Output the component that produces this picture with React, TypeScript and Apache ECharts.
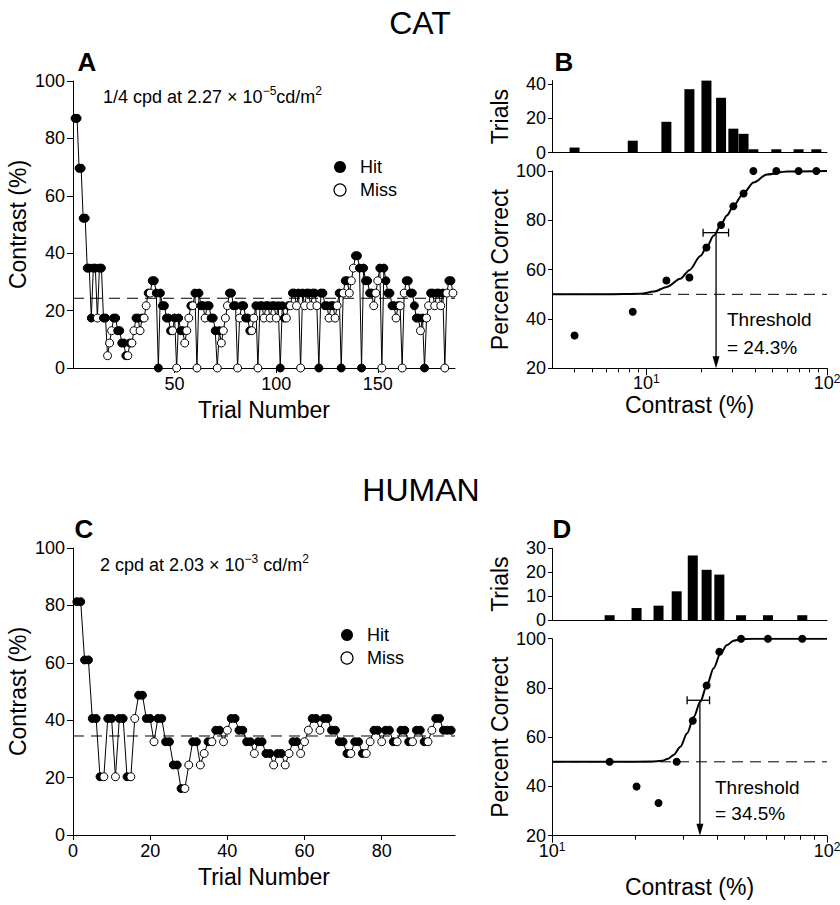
import React, { useEffect, useRef } from "react";
import * as echarts from "echarts";

const FONT = "'Liberation Sans', Arial, Helvetica, sans-serif";

// ---------- Panel A : cat staircase (trial 1..187) ----------
const catContrast = [
  87, 87, 69.6, 69.6, 52.2, 52.2, 34.8, 34.8, 17.4, 34.8,
  34.8, 17.4, 34.8, 34.8, 17.4, 17.4, 4.3, 8.7, 13, 17.4,
  17.4, 13, 13, 8.7, 8.7, 4.3, 4.3, 8.7, 8.7, 13,
  17.4, 17.4, 13, 17.4, 17.4, 21.7, 26.1, 26.1, 30.4, 30.4,
  26.1, 0, 26.1, 21.7, 21.7, 17.4, 17.4, 13, 13, 17.4,
  0, 17.4, 13, 13, 8.7, 13, 17.4, 21.7, 21.7, 26.1,
  0, 26.1, 21.7, 21.7, 17.4, 21.7, 21.7, 17.4, 17.4, 13,
  0, 13, 8.7, 13, 17.4, 21.7, 26.1, 26.1, 21.7, 21.7,
  0, 17.4, 21.7, 21.7, 17.4, 17.4, 13, 13, 17.4, 21.7,
  0, 21.7, 21.7, 17.4, 21.7, 21.7, 17.4, 21.7, 21.7, 17.4,
  21.7, 0, 21.7, 17.4, 17.4, 21.7, 21.7, 26.1, 26.1, 21.7,
  26.1, 0, 26.1, 21.7, 26.1, 26.1, 21.7, 26.1, 26.1, 21.7,
  0, 26.1, 26.1, 21.7, 21.7, 17.4, 21.7, 21.7, 17.4, 21.7,
  26.1, 0, 26.1, 30.4, 30.4, 26.1, 30.4, 34.8, 39.1, 39.1,
  34.8, 0, 34.8, 30.4, 30.4, 26.1, 26.1, 21.7, 26.1, 30.4,
  34.8, 0, 34.8, 30.4, 26.1, 26.1, 21.7, 21.7, 17.4, 21.7,
  21.7, 0, 26.1, 30.4, 30.4, 26.1, 26.1, 21.7, 17.4, 17.4,
  13, 17.4, 0, 17.4, 21.7, 26.1, 26.1, 21.7, 26.1, 26.1,
  21.7, 26.1, 0, 26.1, 30.4, 30.4, 26.1,
];
const catHit = [
  1, 1, 1, 1, 1, 1, 1, 1, 1, 1,
  1, 0, 1, 1, 1, 1, 0, 0, 0, 1,
  1, 1, 1, 1, 1, 1, 0, 1, 0, 0,
  1, 1, 0, 1, 0, 0, 1, 0, 1, 1,
  1, 1, 1, 1, 1, 1, 1, 1, 0, 1,
  0, 1, 1, 1, 0, 0, 0, 1, 0, 1,
  0, 1, 1, 1, 0, 1, 1, 1, 1, 1,
  0, 1, 0, 0, 0, 0, 1, 1, 1, 1,
  0, 0, 1, 1, 1, 1, 1, 0, 0, 1,
  0, 1, 1, 0, 1, 1, 0, 1, 1, 0,
  1, 1, 1, 1, 0, 1, 0, 1, 1, 0,
  1, 0, 1, 0, 1, 1, 0, 1, 1, 0,
  1, 1, 1, 1, 1, 0, 1, 1, 0, 0,
  1, 1, 0, 1, 1, 0, 0, 0, 1, 1,
  1, 1, 1, 1, 1, 1, 1, 0, 0, 0,
  1, 0, 1, 1, 1, 1, 1, 1, 0, 1,
  0, 0, 0, 1, 1, 1, 1, 1, 1, 1,
  0, 1, 1, 0, 0, 1, 1, 0, 1, 1,
  0, 1, 0, 0, 1, 1, 0,
];
const catThreshold = 24.3;
const catTrialMax = 188;

// ---------- Panel B : cat histogram + psychometric function ----------
const catLevels = [4.0, 8.4, 12.9, 17.3, 21.5, 25.9, 30.3, 34.5, 39.1, 52.4, 69.6, 87.3];
const catLevelTrials = [3, 7, 18, 37, 42, 32, 14, 11, 2, 2, 2, 2];
const catLevelPercent = [33.3, 42.9, 55.6, 56.8, 69.0, 78.1, 85.7, 90.9, 100, 100, 100, 100];
const catFitContrast = [3, 6, 9.3, 11, 13, 15.4, 17.3, 19.9, 21.5, 23.6, 25.9, 27.9, 30.3, 34.5, 39.2, 46.5, 60, 100];
const catFitPercent = [50, 50, 50.2, 51.1, 53, 56.3, 59.8, 65.5, 69, 73.8, 78.3, 82, 85.8, 91, 95.3, 98.6, 99.8, 100];
const catThresholdCI = [20.6, 28.5];

// ---------- Panel C : human staircase (trial 1..98) ----------
const humanContrast = [
  81.3, 81.3, 61, 61, 40.6, 40.6, 20.3, 20.3, 40.6, 40.6,
  20.3, 40.6, 40.6, 20.3, 20.3, 40.6, 48.7, 48.7, 40.6, 40.6,
  32.5, 40.6, 40.6, 32.5, 32.5, 24.4, 24.4, 16.2, 16.2, 24.4,
  32.5, 32.5, 24.4, 28.4, 32.5, 32.5, 36.5, 36.5, 32.5, 36.5,
  40.6, 40.6, 36.5, 36.5, 32.5, 32.5, 28.4, 32.5, 32.5, 28.4,
  28.4, 24.4, 28.4, 28.4, 24.4, 28.4, 32.5, 32.5, 28.4, 32.5,
  36.5, 40.6, 40.6, 36.5, 40.6, 40.6, 36.5, 36.5, 32.5, 32.5,
  28.4, 28.4, 32.5, 32.5, 28.4, 28.4, 32.5, 36.5, 36.5, 32.5,
  36.5, 36.5, 32.5, 32.5, 36.5, 36.5, 32.5, 32.5, 36.5, 36.5,
  32.5, 32.5, 36.5, 40.6, 40.6, 36.5, 36.5, 36.5,
];
const humanHit = [
  1, 1, 1, 1, 1, 1, 1, 0, 1, 1,
  0, 1, 1, 1, 0, 0, 1, 1, 1, 1,
  0, 1, 1, 1, 1, 1, 1, 1, 0, 0,
  1, 1, 0, 0, 1, 0, 1, 1, 0, 0,
  1, 1, 1, 1, 1, 1, 0, 1, 1, 1,
  1, 0, 1, 1, 0, 0, 1, 1, 0, 0,
  0, 1, 1, 0, 1, 1, 1, 1, 1, 1,
  1, 0, 1, 1, 1, 0, 0, 1, 1, 0,
  1, 1, 1, 0, 1, 1, 1, 0, 1, 1,
  1, 0, 0, 1, 1, 1, 1, 1,
];
const humanThreshold = 34.5;
const humanTrialMax = 99;

// ---------- Panel D : human histogram + psychometric function ----------
const humanLevels = [16.2, 20.3, 24.4, 28.4, 32.5, 36.5, 40.6, 48.7, 61, 81.3];
const humanLevelTrials = [2, 5, 6, 12, 27, 21, 19, 2, 2, 2];
const humanLevelPercent = [50, 40, 33.3, 50, 66.7, 81, 94.7, 100, 100, 100];
const humanFitContrast = [10, 18, 23, 25.1, 26.4, 27.7, 29.3, 31, 32.8, 34.6, 36.6, 38.7, 41, 43.3, 45.7, 49.7, 60, 100];
const humanFitPercent = [50, 50, 50.1, 50.4, 51.2, 52.8, 56.1, 61.6, 68.3, 74.4, 81.2, 88, 94.1, 97.4, 99.2, 99.9, 100, 100];
const humanThresholdCI = [31.0, 37.4];

// ---------- ticks ----------
const catTrialTicks = [50, 100, 150];
const humanTrialTicks = [0, 20, 40, 60, 80];
const catTrialsTicks = [0, 20, 40];
const humanTrialsTicks = [0, 10, 20, 30];
const catMinorTicks = [4, 5, 6, 7, 8, 9, 20, 30, 40, 50, 60, 70, 80, 90];
const humanMinorTicks = [20, 30, 40, 50, 60, 70, 80, 90];
const decadeTicks = [10, 100];
const criterion = 75;
const chance = 50;

const BLACK = "#000";

function buildOption() {
  const axisLine = { show: true, onZero: false, lineStyle: { color: BLACK, width: 1 } };
  const lbl = (extra: any = {}) => ({ color: BLACK, fontSize: 18, fontFamily: FONT, ...extra });
  const nameStyle = { color: BLACK, fontSize: 23, fontFamily: FONT };
  const tick = (len: number, extra: any = {}) => ({ show: true, length: len, lineStyle: { color: BLACK, width: 1 }, ...extra });
  const none = { show: false };

  const decadeLabel = {
    ...lbl({ margin: 5 }),
    customValues: decadeTicks,
    formatter: (v: number) => `{b|10}{s|${Math.round(Math.log10(v))}}`,
    rich: {
      b: { fontSize: 18, fontFamily: FONT, color: BLACK, lineHeight: 20 },
      s: { fontSize: 12, fontFamily: FONT, color: BLACK, verticalAlign: "top", lineHeight: 12 },
    },
  };

  const filled = { color: BLACK, borderColor: BLACK, borderWidth: 1, opacity: 1 };
  const open = { color: "#fff", borderColor: BLACK, borderWidth: 1, opacity: 1 };

  const staircase = (contrast: number[], hit: number[], idx: number) => ({
    type: "line",
    xAxisIndex: idx,
    yAxisIndex: idx === 0 ? 0 : 3,
    data: contrast.map((v, i) => ({ value: [i + 1, v], itemStyle: hit[i] ? filled : open })),
    symbol: "circle",
    symbolSize: 8,
    showAllSymbol: true,
    lineStyle: { color: BLACK, width: 1 },
    z: 3,
    silent: true,
  });

  const hline = (xa: number, ya: number, x0: number, x1: number, y: number) => ({
    type: "line",
    xAxisIndex: xa,
    yAxisIndex: ya,
    data: [[x0, y], [x1, y]],
    symbol: "none",
    lineStyle: { color: BLACK, width: 1, type: [11, 7] },
    z: 1,
    silent: true,
  });

  const histRender = (params: any, api: any) => {
    const c = api.value(0);
    const n = api.value(1);
    const b = api.coord([c, 0]);
    const t = api.coord([c, n]);
    return {
      type: "rect",
      shape: { x: b[0] - 5, y: t[1], width: 10, height: b[1] - t[1] },
      style: { fill: BLACK },
    };
  };
  const errRender = (params: any, api: any) => {
    const p1 = api.coord([api.value(0), api.value(2)]);
    const p2 = api.coord([api.value(1), api.value(2)]);
    const st = { stroke: BLACK, lineWidth: 1.3 };
    return {
      type: "group",
      children: [
        { type: "line", shape: { x1: p1[0], y1: p1[1], x2: p2[0], y2: p2[1] }, style: st },
        { type: "line", shape: { x1: p1[0], y1: p1[1] - 4, x2: p1[0], y2: p1[1] + 4 }, style: st },
        { type: "line", shape: { x1: p2[0], y1: p2[1] - 4, x2: p2[0], y2: p2[1] + 4 }, style: st },
      ],
    };
  };
  const arrowRender = (params: any, api: any) => {
    const top = api.coord([api.value(0), api.value(1)]);
    const bot = api.coord([api.value(0), api.value(2)]);
    return {
      type: "group",
      children: [
        { type: "line", shape: { x1: top[0], y1: top[1], x2: bot[0], y2: bot[1] - 10 }, style: { stroke: BLACK, lineWidth: 1.3 } },
        { type: "polygon", shape: { points: [[bot[0] - 3.5, bot[1] - 12], [bot[0] + 3.5, bot[1] - 12], [bot[0], bot[1]]] }, style: { fill: BLACK } },
      ],
    };
  };

  const grid = [
    { left: 73, top: 81, width: 382, height: 287 },
    { left: 552, top: 80.6, width: 275, height: 72.1 },
    { left: 552, top: 171, width: 275, height: 197.3 },
    { left: 73, top: 548, width: 382, height: 287 },
    { left: 552, top: 548.3, width: 275, height: 71.7 },
    { left: 552, top: 638.7, width: 275, height: 197 },
  ].map((g) => ({ ...g, containLabel: false, outerBoundsMode: "none" }));

  const xAxis = [
    // 0: A
    {
      type: "value", gridIndex: 0, min: 0, max: catTrialMax, position: "bottom",
      axisLine, axisTick: tick(5, { customValues: catTrialTicks }),
      axisLabel: lbl({ customValues: catTrialTicks, margin: 7 }), splitLine: none,
      name: "Trial Number", nameLocation: "middle", nameGap: 30, nameTextStyle: nameStyle,
    },
    // 1: B histogram
    { type: "log", logBase: 10, gridIndex: 1, min: 3, max: 100, position: "bottom", axisLine, axisTick: none, axisLabel: none, splitLine: none },
    // 2: B psychometric minor ticks
    {
      type: "log", logBase: 10, gridIndex: 2, min: 3, max: 100, position: "bottom",
      axisLine, axisTick: tick(4, { customValues: catMinorTicks }), axisLabel: none, splitLine: none,
    },
    // 3: B psychometric decades
    {
      type: "log", logBase: 10, gridIndex: 2, min: 3, max: 100, position: "bottom", offset: 0,
      axisLine: { show: false }, axisTick: tick(7, { customValues: decadeTicks }), axisLabel: decadeLabel, splitLine: none,
      name: "Contrast (%)", nameLocation: "middle", nameGap: 25, nameMoveOverlap: false, nameTextStyle: nameStyle,
    },
    // 4: C
    {
      type: "value", gridIndex: 3, min: 0, max: humanTrialMax, position: "bottom",
      axisLine, axisTick: tick(5, { customValues: humanTrialTicks }),
      axisLabel: lbl({ customValues: humanTrialTicks, margin: 7 }), splitLine: none,
      name: "Trial Number", nameLocation: "middle", nameGap: 30, nameTextStyle: nameStyle,
    },
    // 5: D histogram
    { type: "log", logBase: 10, gridIndex: 4, min: 10, max: 100, position: "bottom", axisLine, axisTick: none, axisLabel: none, splitLine: none },
    // 6: D minor
    {
      type: "log", logBase: 10, gridIndex: 5, min: 10, max: 100, position: "bottom",
      axisLine, axisTick: tick(4, { customValues: humanMinorTicks }), axisLabel: none, splitLine: none,
    },
    // 7: D decades
    {
      type: "log", logBase: 10, gridIndex: 5, min: 10, max: 100, position: "bottom", offset: 0,
      axisLine: { show: false }, axisTick: tick(7, { customValues: decadeTicks }), axisLabel: decadeLabel, splitLine: none,
      name: "Contrast (%)", nameLocation: "middle", nameGap: 40, nameMoveOverlap: false, nameTextStyle: nameStyle,
    },
  ];

  const yAxis = [
    {
      type: "value", gridIndex: 0, min: 0, max: 100, interval: 20, axisLine, axisTick: tick(6),
      axisLabel: lbl({ margin: 8 }), splitLine: none,
      name: "Contrast (%)", nameLocation: "middle", nameGap: 44, nameTextStyle: nameStyle,
    },
    {
      type: "value", gridIndex: 1, min: 0, max: 42, axisLine, axisTick: tick(4, { customValues: catTrialsTicks }),
      axisLabel: lbl({ margin: 6, customValues: catTrialsTicks }), splitLine: none,
      name: "Trials", nameLocation: "middle", nameGap: 41, nameTextStyle: nameStyle,
    },
    {
      type: "value", gridIndex: 2, min: 20, max: 100, interval: 20, axisLine, axisTick: tick(4),
      axisLabel: lbl({ margin: 6 }), splitLine: none,
      name: "Percent Correct", nameLocation: "middle", nameGap: 41, nameTextStyle: nameStyle,
    },
    {
      type: "value", gridIndex: 3, min: 0, max: 100, interval: 20, axisLine, axisTick: tick(6),
      axisLabel: lbl({ margin: 8 }), splitLine: none,
      name: "Contrast (%)", nameLocation: "middle", nameGap: 44, nameTextStyle: nameStyle,
    },
    {
      type: "value", gridIndex: 4, min: 0, max: 30, interval: 10, axisLine, axisTick: tick(4, { customValues: humanTrialsTicks }),
      axisLabel: lbl({ margin: 6, customValues: humanTrialsTicks }), splitLine: none,
      name: "Trials", nameLocation: "middle", nameGap: 41, nameTextStyle: nameStyle,
    },
    {
      type: "value", gridIndex: 5, min: 20, max: 100, interval: 20, axisLine, axisTick: tick(4),
      axisLabel: lbl({ margin: 6 }), splitLine: none,
      name: "Percent Correct", nameLocation: "middle", nameGap: 41, nameTextStyle: nameStyle,
    },
  ];

  const psychPoints = (levels: number[], pct: number[], xa: number, ya: number) => ({
    type: "scatter", xAxisIndex: xa, yAxisIndex: ya,
    data: levels.map((c, i) => [c, pct[i]]),
    symbol: "circle", symbolSize: 8, itemStyle: { color: BLACK, opacity: 1 }, z: 4, silent: true,
  });
  const fitCurve = (cs: number[], ps: number[], xa: number, ya: number) => ({
    type: "line", xAxisIndex: xa, yAxisIndex: ya,
    data: cs.map((c, i) => [c, ps[i]]),
    smooth: 0.3, smoothMonotone: "x", symbol: "none",
    lineStyle: { color: BLACK, width: 2 }, z: 3, silent: true,
  });

  const series = [
    // A
    hline(0, 0, 0, catTrialMax, catThreshold),
    staircase(catContrast, catHit, 0),
    // B histogram
    { type: "custom", xAxisIndex: 1, yAxisIndex: 1, data: catLevels.map((c, i) => [c, catLevelTrials[i]]), renderItem: histRender, silent: true },
    // B psychometric
    hline(2, 2, 3, 100, chance),
    fitCurve(catFitContrast, catFitPercent, 2, 2),
    psychPoints(catLevels, catLevelPercent, 2, 2),
    { type: "custom", xAxisIndex: 2, yAxisIndex: 2, data: [[catThresholdCI[0], catThresholdCI[1], criterion]], renderItem: errRender, z: 5, silent: true },
    { type: "custom", xAxisIndex: 2, yAxisIndex: 2, data: [[catThreshold, criterion, 20]], renderItem: arrowRender, z: 5, silent: true },
    // C
    hline(4, 3, 0, humanTrialMax, humanThreshold),
    staircase(humanContrast, humanHit, 4),
    // D histogram
    { type: "custom", xAxisIndex: 5, yAxisIndex: 4, data: humanLevels.map((c, i) => [c, humanLevelTrials[i]]), renderItem: histRender, silent: true },
    // D psychometric
    hline(6, 5, 10, 100, chance),
    fitCurve(humanFitContrast, humanFitPercent, 6, 5),
    psychPoints(humanLevels, humanLevelPercent, 6, 5),
    { type: "custom", xAxisIndex: 6, yAxisIndex: 5, data: [[humanThresholdCI[0], humanThresholdCI[1], criterion]], renderItem: errRender, z: 5, silent: true },
    { type: "custom", xAxisIndex: 6, yAxisIndex: 5, data: [[humanThreshold, criterion, 20]], renderItem: arrowRender, z: 5, silent: true },
  ];

  const txt = (x: number, y: number, text: string, size: number, extra: any = {}) => ({
    type: "text", x, y, silent: true,
    style: { text, fontSize: size, fontFamily: FONT, fill: BLACK, align: "left", verticalAlign: "middle", ...extra },
  });
  const richCond = (x: number, y: number, text: string) => ({
    type: "text", x, y, silent: true,
    style: {
      text, fill: BLACK, align: "left", verticalAlign: "middle", fontFamily: FONT, fontSize: 18,
      rich: {
        n: { fontSize: 18, fontFamily: FONT, fill: BLACK, lineHeight: 24 },
        s: { fontSize: 12, fontFamily: FONT, fill: BLACK, verticalAlign: "top", lineHeight: 14 },
      },
    },
  });
  const legend = (cx: number, cy: number) => [
    { type: "circle", shape: { cx, cy, r: 6 }, style: { fill: BLACK }, silent: true },
    txt(cx + 20, cy, "Hit", 18),
    { type: "circle", shape: { cx, cy: cy + 23, r: 6 }, style: { fill: "#fff", stroke: BLACK, lineWidth: 1.2 }, silent: true },
    txt(cx + 20, cy + 23, "Miss", 18),
  ];

  const graphic = [
    txt(420, 23, "CAT", 32, { align: "center" }),
    txt(421, 490, "HUMAN", 32, { align: "center" }),
    txt(87, 62, "A", 26, { align: "center", fontWeight: "bold" }),
    txt(564, 62, "B", 26, { align: "center", fontWeight: "bold" }),
    txt(84, 529, "C", 26, { align: "center", fontWeight: "bold" }),
    txt(562, 529, "D", 26, { align: "center", fontWeight: "bold" }),
    richCond(103, 97, "{n|1/4 cpd at 2.27 × 10}{s|−5}{n|cd/m}{s|2}"),
    richCond(100, 565, "{n|2 cpd at 2.03 × 10}{s|−3}{n| cd/m}{s|2}"),
    ...legend(340, 167),
    ...legend(347, 635),
    txt(727, 319, "Threshold", 19),
    txt(727, 347, "= 24.3%", 19),
    txt(715, 787, "Threshold", 19),
    txt(715, 813, "= 34.5%", 19),
  ];

  return { animation: false, backgroundColor: "#fff", grid, xAxis, yAxis, series, graphic };
}

export default function App() {
  const ref = useRef<HTMLDivElement>(null);
  useEffect(() => {
    if (!ref.current) return;
    const chart = echarts.init(ref.current, undefined, { renderer: "svg" });
    chart.setOption(buildOption() as any);
    return () => chart.dispose();
  }, []);
  return (
    <div
      ref={ref}
      style={{ position: "fixed", left: 0, top: 0, width: 840, height: 905, background: "#fff" }}
    />
  );
}
